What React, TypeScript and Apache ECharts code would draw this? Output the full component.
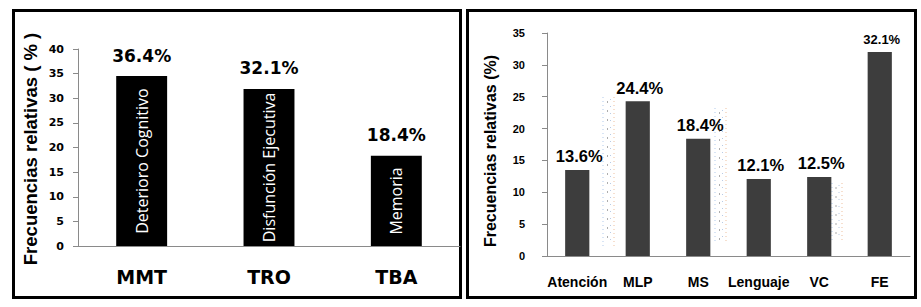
import React, { useEffect, useRef } from "react";
import * as echarts from "echarts";

const leftCategories = ["MMT", "TRO", "TBA"];
const leftValues = [34.5, 31.9, 18.3];
const leftValueLabels = ["36.4%", "32.1%", "18.4%"];
const leftInsideLabels = ["Deterioro Cognitivo", "Disfunción Ejecutiva", "Memoria"];

const rightCategories = ["Atención", "MLP", "MS", "Lenguaje", "VC", "FE"];
const rightValues = [13.5, 24.3, 18.4, 12.1, 12.4, 32.0];
const rightValueLabels = ["13.6%", "24.4%", "18.4%", "12.1%", "12.5%", "32.1%"];

const leftTitle = "Frecuencias relativas ( % )";
const rightTitle = "Frecuencias relativas (%)";

const AX = "#8a8a8a";

function ghostStrip(x0: number, x1: number, y0: number, y1: number) {
  const mid = (x0 + x1) / 2;
  return [
    { type: "line", silent: true, shape: { x1: x0, y1: y0, x2: x0, y2: y1 }, style: { stroke: "#9dbde6", lineWidth: 1, lineDash: [1, 3], opacity: 0.8 } },
    { type: "line", silent: true, shape: { x1: mid - 1, y1: y0 + 4, x2: mid - 1, y2: y1 - 2 }, style: { stroke: "#777", lineWidth: 1, lineDash: [2, 7], opacity: 0.6 } },
    { type: "line", silent: true, shape: { x1: mid + 2, y1: y0 + 2, x2: mid + 2, y2: y1 - 4 }, style: { stroke: "#8aa8d4", lineWidth: 1, lineDash: [1, 6], opacity: 0.6 } },
    { type: "line", silent: true, shape: { x1: x1, y1: y0, x2: x1, y2: y1 }, style: { stroke: "#e8b088", lineWidth: 1, lineDash: [1, 3], opacity: 0.8 } },
  ];
}

export default function App() {
  const ref = useRef<HTMLDivElement>(null);
  useEffect(() => {
    if (!ref.current) return;
    const chart = echarts.init(ref.current, undefined, { renderer: "svg" });
    const option: any = {
      animation: false,
      backgroundColor: "#ffffff",
      grid: [
        { left: 78, top: 49, width: 382, height: 197 },
        { left: 547, top: 33, width: 363, height: 223 },
      ],
      xAxis: [
        {
          type: "category",
          gridIndex: 0,
          data: leftCategories,
          axisLine: { lineStyle: { color: AX } },
          axisTick: { length: 6, lineStyle: { color: AX } },
          axisLabel: { interval: 0, margin: 21, fontFamily: "DejaVu Sans", fontWeight: "bold", fontSize: 19, color: "#000" },
        },
        {
          type: "category",
          gridIndex: 1,
          data: rightCategories,
          axisLine: { lineStyle: { color: AX } },
          axisTick: { length: 5, lineStyle: { color: AX } },
          axisLabel: { interval: 0, margin: 19, fontFamily: "Liberation Sans", fontWeight: "bold", fontSize: 14, color: "#000" },
        },
      ],
      yAxis: [
        {
          type: "value",
          gridIndex: 0,
          min: 0,
          max: 40,
          interval: 5,
          splitLine: { show: false },
          axisLine: { show: true, lineStyle: { color: AX } },
          axisTick: { show: true, length: 5, lineStyle: { color: AX } },
          axisLabel: { margin: 14, fontFamily: "DejaVu Sans", fontWeight: "bold", fontSize: 11, color: "#000" },
        },
        {
          type: "value",
          gridIndex: 1,
          min: 0,
          max: 35,
          interval: 5,
          splitLine: { show: false },
          axisLine: { show: true, lineStyle: { color: AX } },
          axisTick: { show: true, length: 5, lineStyle: { color: AX } },
          axisLabel: { margin: 22, fontFamily: "Liberation Sans", fontWeight: "bold", fontSize: 11, color: "#000" },
        },
      ],
      series: [
        {
          type: "bar",
          xAxisIndex: 0,
          yAxisIndex: 0,
          data: leftValues,
          barWidth: "40%",
          itemStyle: { color: "#000" },
          label: {
            show: true,
            position: "inside",
            rotate: 90,
            align: "center",
            verticalAlign: "middle",
            color: "#fff",
            fontFamily: "Open Sans",
            fontSize: 16,
            formatter: (p: any) => leftInsideLabels[p.dataIndex],
          },
          silent: true,
        },
        {
          type: "bar",
          xAxisIndex: 0,
          yAxisIndex: 0,
          data: leftValues,
          barWidth: "40%",
          barGap: "-100%",
          itemStyle: { color: "rgba(0,0,0,0)" },
          label: {
            show: true,
            position: "top",
            distance: 12,
            color: "#000",
            fontFamily: "DejaVu Sans",
            fontWeight: "bold",
            fontSize: 17,
            formatter: (p: any) => leftValueLabels[p.dataIndex],
          },
          silent: true,
        },
        {
          type: "bar",
          xAxisIndex: 1,
          yAxisIndex: 1,
          data: rightValues.map((v, i) =>
            i === rightValues.length - 1 ? { value: v, label: { fontSize: 13, distance: 6 } } : v
          ),
          barWidth: "40%",
          itemStyle: { color: "#3d3d3d" },
          label: {
            show: true,
            position: "top",
            distance: 5,
            offset: [2, 0],
            color: "#000",
            fontFamily: "Liberation Sans",
            fontWeight: "bold",
            fontSize: 16.5,
            formatter: (p: any) => rightValueLabels[p.dataIndex],
          },
          silent: true,
        },
      ],
      graphic: [
        { type: "rect", silent: true, shape: { x: 13.5, y: 10.5, width: 447, height: 287 }, style: { fill: "none", stroke: "#000", lineWidth: 3 } },
        { type: "rect", silent: true, shape: { x: 467.5, y: 10.5, width: 448, height: 287 }, style: { fill: "none", stroke: "#000", lineWidth: 3 } },
        {
          type: "text",
          silent: true,
          x: 30,
          y: 149,
          rotation: Math.PI / 2,
          style: { text: leftTitle, fontFamily: "Liberation Sans", fontWeight: "bold", fontSize: 18.5, fill: "#000", align: "center", verticalAlign: "middle" },
        },
        {
          type: "text",
          silent: true,
          x: 490,
          y: 151,
          rotation: Math.PI / 2,
          style: { text: rightTitle, fontFamily: "Liberation Sans", fontWeight: "bold", fontSize: 16, fill: "#000", align: "center", verticalAlign: "middle" },
        },
        ...ghostStrip(603, 614, 97, 246),
        ...ghostStrip(715, 726, 108, 243),
        ...ghostStrip(832, 842, 183, 241),
      ],
    };
    chart.setOption(option);
    return () => chart.dispose();
  }, []);
  return (
    <div
      ref={ref}
      style={{ position: "absolute", left: 0, top: 0, width: 921, height: 307 }}
    />
  );
}
